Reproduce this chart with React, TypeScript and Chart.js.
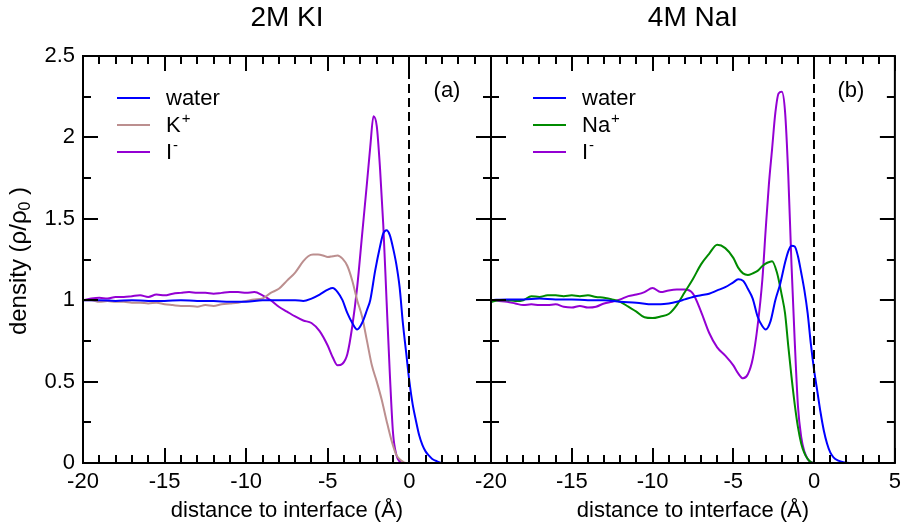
import React, { useEffect, useRef } from "react";
import { Chart, registerables } from "chart.js";

Chart.register(...registerables);

const FONT = "'Liberation Sans', Arial, Helvetica, sans-serif";

// ---------- texts & ticks ----------
const panelTitles = ["2M KI", "4M NaI"];
const panelTags = ["(a)", "(b)"];
const xAxisTitle = "distance to interface (Å)";
const xTicksLeft = [-20, -15, -10, -5, 0];
const xTicksRight = [-20, -15, -10, -5, 0, 5];
const yTicks = [0, 0.5, 1, 1.5, 2, 2.5];
const xRange = [-20, 5];
const yRange = [0, 2.5];
const xMinorStep = 1;
const xMajorStep = 5;
const yMinorStep = 0.25;
const yMajorStep = 0.5;
const interfaceX = 0;

// ---------- 2M KI ----------
const kiWaterX = [-20,-19,-18,-17,-16,-15,-14,-13,-12,-11,-10,-9,-8,-7,-6.5,-6,-5.5,-5,-4.7,-4.4,-4.1,-3.8,-3.5,-3.2,-2.9,-2.6,-2.4,-2.1,-1.8,-1.6,-1.4,-1.2,-1.0,-0.8,-0.6,-0.4,-0.2,0,0.2,0.4,0.6,0.8,1.0,1.2,1.4,1.7,2.0,3,4,5];
const kiWaterY = [1.0,1.0,0.995,1.0,0.995,0.995,1.0,0.995,0.995,0.99,0.99,1.0,1.0,1.0,0.995,1.01,1.035,1.065,1.075,1.05,1.0,0.92,0.86,0.82,0.86,0.94,1.0,1.18,1.33,1.41,1.43,1.40,1.32,1.22,1.08,0.86,0.68,0.5,0.36,0.26,0.17,0.11,0.07,0.045,0.025,0.01,0,0,0,0];

const kiKX = [-20,-19.5,-19,-18.5,-18,-17.5,-17,-16.5,-16,-15.5,-15,-14.5,-14,-13.5,-13,-12.5,-12,-11.5,-11,-10.5,-10,-9.5,-9,-8.5,-8,-7.5,-7,-6.5,-6.2,-5.9,-5.6,-5.3,-5.0,-4.7,-4.4,-4.1,-3.8,-3.5,-3.2,-2.9,-2.6,-2.3,-2.0,-1.7,-1.4,-1.1,-0.8,-0.5,-0.2,0,1,2,3,4,5];
const kiKY = [1.0,1.0,0.99,0.995,0.99,0.99,0.985,0.985,0.98,0.985,0.975,0.97,0.965,0.965,0.96,0.97,0.965,0.975,0.98,0.985,0.995,1.005,1.01,1.045,1.07,1.12,1.17,1.24,1.27,1.28,1.28,1.275,1.265,1.27,1.275,1.255,1.21,1.12,1.0,0.9,0.75,0.6,0.5,0.39,0.26,0.14,0.05,0.015,0,0,0,0,0,0,0];

const kiIX = [-20,-19.5,-19,-18.5,-18,-17.5,-17,-16.5,-16,-15.5,-15,-14.5,-14,-13.5,-13,-12.5,-12,-11.5,-11,-10.5,-10,-9.5,-9,-8.5,-8,-7.5,-7,-6.5,-6,-5.5,-5,-4.7,-4.4,-4.1,-3.8,-3.5,-3.2,-2.9,-2.6,-2.4,-2.2,-2.0,-1.8,-1.6,-1.4,-1.2,-1.0,-0.8,-0.6,-0.4,0,1,2,3,4,5];
const kiIY = [1.0,1.01,1.015,1.01,1.02,1.02,1.025,1.03,1.02,1.035,1.03,1.04,1.045,1.05,1.045,1.045,1.04,1.045,1.05,1.05,1.045,1.05,1.03,1.0,0.96,0.93,0.9,0.875,0.86,0.81,0.72,0.65,0.6,0.61,0.67,0.84,1.08,1.4,1.72,1.94,2.13,2.07,1.81,1.46,1.0,0.55,0.18,0.05,0.01,0,0,0,0,0,0,0];

// ---------- 4M NaI ----------
const naWaterX = [-20,-19,-18,-17,-16,-15,-14,-13,-12,-11,-10,-9.5,-9,-8.5,-8,-7.5,-7,-6.5,-6,-5.5,-5,-4.7,-4.4,-4.1,-3.8,-3.5,-3.2,-3.0,-2.7,-2.4,-2.1,-1.8,-1.6,-1.4,-1.2,-1.0,-0.8,-0.6,-0.4,-0.2,0,0.2,0.4,0.6,0.8,1.0,1.2,1.5,1.8,2.2,3,4,5];
const naWaterY = [1.0,1.005,1.005,1.01,1.005,1.005,1.0,1.0,0.99,0.985,0.975,0.975,0.98,0.99,1.005,1.02,1.03,1.04,1.06,1.08,1.11,1.128,1.12,1.07,1.01,0.9,0.84,0.82,0.87,1.0,1.1,1.23,1.3,1.335,1.33,1.27,1.17,1.06,0.92,0.73,0.57,0.44,0.31,0.2,0.12,0.065,0.035,0.015,0.005,0,0,0,0];

const naNaX = [-20,-19.5,-19,-18.5,-18,-17.5,-17,-16.5,-16,-15.5,-15,-14.5,-14,-13.5,-13,-12.5,-12,-11.5,-11,-10.5,-10,-9.5,-9,-8.5,-8,-7.5,-7,-6.5,-6,-5.5,-5,-4.7,-4.4,-4.1,-3.8,-3.5,-3.2,-2.9,-2.6,-2.3,-2.0,-1.8,-1.6,-1.4,-1.2,-1.0,-0.8,-0.6,-0.4,-0.2,0,1,2,3,4,5];
const naNaY = [0.99,1.0,1.0,0.995,1.0,1.025,1.02,1.03,1.03,1.025,1.03,1.025,1.03,1.02,1.015,1.005,0.99,0.96,0.93,0.895,0.89,0.9,0.915,0.97,1.05,1.13,1.22,1.285,1.34,1.32,1.26,1.2,1.165,1.155,1.165,1.18,1.21,1.23,1.24,1.17,1.03,0.92,0.72,0.53,0.36,0.22,0.12,0.06,0.025,0.005,0,0,0,0,0,0];

const naIX = [-20,-19.5,-19,-18.5,-18,-17.5,-17,-16.5,-16,-15.5,-15,-14.5,-14,-13.5,-13,-12.5,-12,-11.5,-11,-10.5,-10,-9.5,-9,-8.5,-8,-7.5,-7,-6.5,-6,-5.5,-5,-4.7,-4.4,-4.1,-3.8,-3.5,-3.2,-3.0,-2.8,-2.6,-2.4,-2.2,-2.0,-1.8,-1.6,-1.4,-1.2,-1.0,-0.8,-0.6,-0.4,-0.2,0,1,2,3,4,5];
const naIY = [1.0,0.995,0.99,0.98,0.97,0.975,0.97,0.97,0.975,0.96,0.955,0.965,0.955,0.96,0.98,0.99,1.005,1.025,1.035,1.05,1.075,1.05,1.06,1.065,1.065,1.04,0.93,0.8,0.71,0.66,0.6,0.55,0.52,0.545,0.64,0.84,1.13,1.43,1.71,1.93,2.15,2.27,2.28,2.16,1.77,1.22,0.75,0.35,0.16,0.07,0.025,0.005,0,0,0,0,0,0];

// ---------- series styling ----------
const cWater = "#0000ff";
const cK = "#bc8f8f";
const cI = "#9400d3";
const cNa = "#008b00";

const pts = (xs: number[], ys: number[]) => xs.map((x, i) => ({ x, y: ys[i] }));

const mkDs = (label: string, sup: string, color: string, xs: number[], ys: number[]) => ({
  label,
  sup,
  data: pts(xs, ys),
  borderColor: color,
  backgroundColor: color,
  borderWidth: 2,
  pointRadius: 0,
  fill: false,
  cubicInterpolationMode: "monotone",
});

const decoPlugin = {
  id: "deco",
  afterDatasetsDraw(chart: any, _args: any, o: any) {
    const { ctx, chartArea: a } = chart;
    const xs = chart.scales.x;
    const ys = chart.scales.y;
    ctx.save();
    ctx.strokeStyle = "#000";
    ctx.lineWidth = 2;
    // interface dashed line
    ctx.setLineDash([9, 5]);
    const xi = Math.round(xs.getPixelForValue(interfaceX));
    ctx.beginPath();
    ctx.moveTo(xi, a.top);
    ctx.lineTo(xi, a.bottom);
    ctx.stroke();
    ctx.setLineDash([]);
    // ticks on all four sides, pointing inward
    const isMajor = (v: number, step: number) => Math.abs(v / step - Math.round(v / step)) < 1e-6;
    ctx.beginPath();
    for (let v = xs.min; v <= xs.max + 1e-6; v += xMinorStep) {
      const px = Math.round(xs.getPixelForValue(v));
      const L = isMajor(v, xMajorStep) ? 15 : 8;
      ctx.moveTo(px, a.bottom);
      ctx.lineTo(px, a.bottom - L);
      ctx.moveTo(px, a.top);
      ctx.lineTo(px, a.top + L);
    }
    for (let v = ys.min; v <= ys.max + 1e-6; v += yMinorStep) {
      const py = Math.round(ys.getPixelForValue(v));
      const L = isMajor(v, yMajorStep) ? 15 : 8;
      ctx.moveTo(a.left, py);
      ctx.lineTo(a.left + L, py);
      ctx.moveTo(a.right, py);
      ctx.lineTo(a.right - L, py);
    }
    ctx.stroke();
    ctx.strokeRect(a.left, a.top, a.right - a.left, a.bottom - a.top);

    // legend
    const lg = o.legend;
    chart.data.datasets.forEach((ds: any, i: number) => {
      const y = a.top + lg.top + i * lg.gap;
      ctx.strokeStyle = ds.borderColor;
      ctx.lineWidth = 2;
      ctx.beginPath();
      ctx.moveTo(a.left + lg.x0, y);
      ctx.lineTo(a.left + lg.x1, y);
      ctx.stroke();
      ctx.fillStyle = "#000";
      ctx.textAlign = "left";
      ctx.textBaseline = "alphabetic";
      ctx.font = `22px ${FONT}`;
      const tx = a.left + lg.tx;
      const by = y + 7;
      ctx.fillText(ds.label, tx, by);
      if (ds.sup) {
        const w = ctx.measureText(ds.label).width;
        ctx.font = `15px ${FONT}`;
        ctx.fillText(ds.sup, tx + w + 1, by - 9);
      }
    });

    // panel tag
    ctx.fillStyle = "#000";
    ctx.font = `22px ${FONT}`;
    ctx.textAlign = "center";
    ctx.textBaseline = "middle";
    ctx.fillText(o.tag, a.right - 44, a.top + 35);

    // y axis title with subscript
    if (o.yTitle) {
      ctx.save();
      ctx.translate(o.yTitle.x, o.yTitle.y);
      ctx.rotate(-Math.PI / 2);
      ctx.textAlign = "left";
      ctx.textBaseline = "alphabetic";
      const parts = [
        { t: "density (ρ/ρ", f: `24px ${FONT}`, dy: 0 },
        { t: "0", f: `16px ${FONT}`, dy: 4 },
        { t: " )", f: `24px ${FONT}`, dy: 0 },
      ];
      let total = 0;
      const widths = parts.map((p) => {
        ctx.font = p.f;
        const w = ctx.measureText(p.t).width;
        total += w;
        return w;
      });
      let x = -total / 2;
      parts.forEach((p, i) => {
        ctx.font = p.f;
        ctx.fillText(p.t, x, p.dy);
        x += widths[i];
      });
      ctx.restore();
    }
    ctx.restore();
  },
};

function makeConfig(p: any) {
  return {
    type: "line",
    data: { datasets: p.datasets },
    plugins: [decoPlugin],
    options: {
      responsive: false,
      animation: false,
      events: [],
      layout: { padding: { left: 0, right: p.padRight, top: 0, bottom: 0 } },
      plugins: {
        legend: { display: false },
        tooltip: { enabled: false },
        title: {
          display: true,
          text: p.title,
          fullSize: false,
          color: "#000",
          font: { family: FONT, size: 28, weight: "normal" },
          padding: { top: 1.2, bottom: 21.2 },
        },
        deco: { legend: p.legend, tag: p.tag, yTitle: p.yTitle },
      },
      scales: {
        x: {
          type: "linear",
          min: xRange[0],
          max: xRange[1],
          grid: { display: false, drawTicks: false },
          border: { display: false },
          afterBuildTicks: (s: any) => {
            s.ticks = p.xTicks.map((v: number) => ({ value: v }));
          },
          afterFit: (s: any) => {
            s.height = 63;
          },
          ticks: {
            color: "#000",
            font: { family: FONT, size: 22 },
            padding: 6,
            maxRotation: 0,
            autoSkip: false,
            callback: (v: any) => String(v),
          },
          title: {
            display: true,
            text: xAxisTitle,
            color: "#000",
            font: { family: FONT, size: 22 },
            padding: { top: 0, bottom: 2 },
          },
        },
        y: {
          type: "linear",
          min: yRange[0],
          max: yRange[1],
          grid: { display: false, drawTicks: false },
          border: { display: false },
          afterBuildTicks: (s: any) => {
            s.ticks = yTicks.map((v) => ({ value: v }));
          },
          afterFit: (s: any) => {
            s.width = p.yWidth;
          },
          ticks: {
            display: p.showY,
            color: "#000",
            font: { family: FONT, size: 22 },
            padding: 8,
            callback: (v: any) => String(v),
          },
        },
      },
    },
  };
}

export default function App() {
  const leftRef = useRef<HTMLCanvasElement>(null);
  const rightRef = useRef<HTMLCanvasElement>(null);

  useEffect(() => {
    const left = new Chart(
      leftRef.current as HTMLCanvasElement,
      makeConfig({
        title: panelTitles[0],
        tag: panelTags[0],
        xTicks: xTicksLeft,
        showY: true,
        yWidth: 83,
        padRight: 9,
        legend: { top: 42, gap: 27, x0: 34, x1: 67, tx: 83 },
        yTitle: { x: 26, y: 261 },
        datasets: [
          mkDs("water", "", cWater, kiWaterX, kiWaterY),
          mkDs("K", "+", cK, kiKX, kiKY),
          mkDs("I", "-", cI, kiIX, kiIY),
        ],
      }) as any
    );
    const right = new Chart(
      rightRef.current as HTMLCanvasElement,
      makeConfig({
        title: panelTitles[1],
        tag: panelTags[1],
        xTicks: xTicksRight,
        showY: false,
        yWidth: 41,
        padRight: 8,
        legend: { top: 42, gap: 27, x0: 42, x1: 75, tx: 91 },
        yTitle: null,
        datasets: [
          mkDs("water", "", cWater, naWaterX, naWaterY),
          mkDs("Na", "+", cNa, naNaX, naNaY),
          mkDs("I", "-", cI, naIX, naIY),
        ],
      }) as any
    );
    return () => {
      left.destroy();
      right.destroy();
    };
  }, []);

  return (
    <div style={{ position: "fixed", left: 0, top: 0, width: 907, height: 526, background: "#fff" }}>
      <canvas ref={leftRef} width={500} height={526} style={{ position: "absolute", left: 0, top: 0 }} />
      <canvas ref={rightRef} width={457} height={526} style={{ position: "absolute", left: 450, top: 0 }} />
    </div>
  );
}
